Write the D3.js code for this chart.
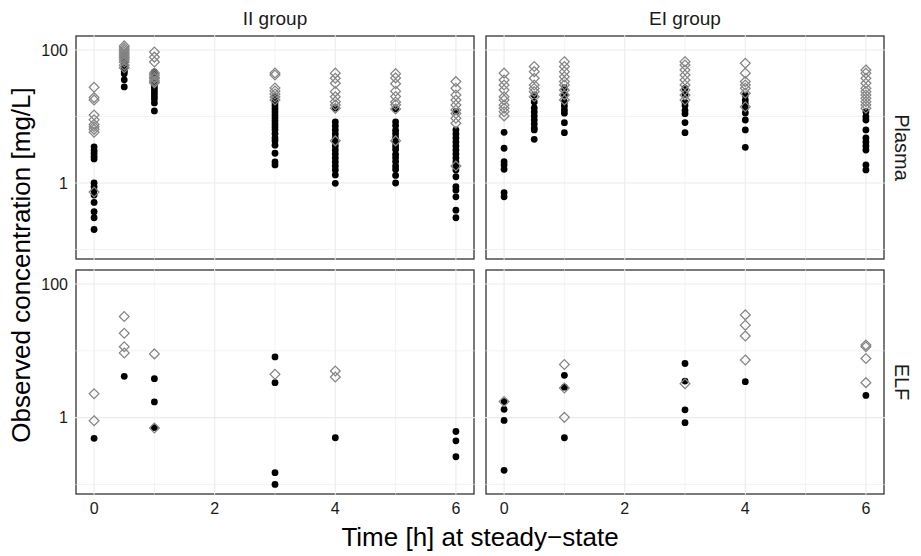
<!DOCTYPE html>
<html><head><meta charset="utf-8">
<script src="https://cdn.jsdelivr.net/npm/d3@7/dist/d3.min.js"></script>
<style>body{margin:0;background:#fff} svg{display:block} text{font-family:"Liberation Sans",Arial,Helvetica,sans-serif}</style>
</head><body><svg id="c" width="921" height="556"></svg>
<script>
// ---------- data ----------
const groups = ["II group", "EI group"];
const matrices = ["Plasma", "ELF"];
const xTicks = [0, 2, 4, 6];
const xMinor = [1, 3, 5];
const yTicks = [1, 100];
const yMinor = [0.1, 10];
const xTitle = "Time [h] at steady\u2212state";
const yTitle = "Observed concentration [mg/L]";

// [time, [concentrations]]  — filled black circles
const iiPlasmaObs = [
  [0,   [3.5, 3.1, 2.8, 2.5, 2.3, 1.0, 0.88, 0.77, 0.66, 0.51, 0.37, 0.30, 0.20]],
  [0.5, [84, 76, 71, 66, 62, 57, 54, 50, 47, 44, 35.5, 27.8]],
  [1,   [46.7, 42, 37.9, 34.2, 30.8, 27.8, 25, 22.6, 20.3, 18.3, 16, 12.1]],
  [3,   [19.7, 17.7, 16, 14.4, 13, 11.7, 10.5, 9.5, 8.6, 7.7, 6.95, 6.3, 5.5, 4.75, 4.3, 3.7, 2.8, 2.07, 1.87]],
  [4,   [13.4, 8.27, 7.2, 6.27, 5.46, 4.75, 4.14, 3.6, 3.13, 2.73, 2.38, 2.07, 1.8, 1.57, 1.32, 0.99]],
  [5,   [13, 8.3, 7.3, 6.2, 5.5, 4.8, 4.1, 3.6, 3.2, 2.7, 2.4, 2.1, 1.8, 1.6, 1.3, 1.0]],
  [6,   [11.8, 6.27, 5.46, 4.75, 4.14, 3.6, 3.13, 2.73, 2.38, 2.07, 1.8, 1.57, 1.24, 0.88, 0.78, 0.62, 0.39, 0.30]]
];
// open grey diamonds
const iiPlasmaPred = [
  [0,   [27.5, 19.2, 17.7, 10.5, 8.9, 7.6, 7.0, 6.4, 5.8, 0.73]],
  [0.5, [115, 107, 100, 93, 87, 81, 76, 71, 66, 59, 54]],
  [1,   [93, 78, 66, 45, 42, 39, 37, 34, 32]],
  [3,   [45, 42, 26.8, 24.2, 21.8, 19.6, 17.7]],
  [4,   [44.8, 37.5, 31.6, 23.6, 19.8, 16.7, 14.9, 13.3, 4.3]],
  [5,   [44, 38, 31, 24, 20, 16.5, 15, 13, 4.3]],
  [6,   [33.4, 26.5, 21, 17.7, 14.9, 12.5, 11.1, 9.4, 7.9, 1.8]]
];
const eiPlasmaObs = [
  [0,   [5.78, 3.33, 2.09, 1.87, 1.61, 0.715, 0.62]],
  [0.5, [21, 16.5, 13.4, 11.7, 10.2, 8.85, 7.7, 6.7, 6.27, 4.54]],
  [1,   [26.8, 21, 16.5, 14.4, 12.5, 11.2, 8.07, 5.7]],
  [3,   [26.5, 21.5, 16.3, 14.6, 12.3, 11, 8.1, 5.7]],
  [4,   [21, 17.7, 15.5, 13.4, 11.3, 8.85, 6.27, 3.44]],
  [6,   [11.8, 9.9, 8.85, 6.27, 4.75, 4.14, 3.6, 3.13, 1.87, 1.57]]
];
const eiPlasmaPred = [
  [0,   [44.8, 35.3, 29.7, 25, 19.8, 17.7, 14.9, 13.3, 11.8, 10.2]],
  [0.5, [56.3, 47.2, 37.5, 29.7, 26.4, 23.6, 19.8]],
  [1,   [66.6, 56.3, 47.2, 39.5, 33.4, 29.7, 25, 21, 17.7]],
  [3,   [66.6, 59.3, 49.9, 42, 35.3, 29.7, 25, 21, 17.7]],
  [4,   [63, 44.8, 33.4, 29.7, 26.5, 22.3, 14.0]],
  [6,   [50, 44.8, 37.5, 31.6, 26.5, 23.6, 21, 18.8, 16.7, 14.9, 13.3]]
];
const iiElfObs = [
  [0, [0.49]], [0.5, [4.15]], [1, [3.83, 1.72, 0.71]],
  [3, [8.1, 3.34, 0.15, 0.1]], [4, [0.5]], [6, [0.62, 0.45, 0.26]]
];
const iiElfPred = [
  [0, [2.28, 0.9]], [0.5, [32.6, 18.3, 11.5, 9.3]], [1, [9.0, 0.7]],
  [3, [4.45]], [4, [4.99, 4.05]]
];
const eiElfObs = [
  [0, [1.74, 1.33, 0.91, 0.163]], [1, [4.3, 2.86, 0.5]],
  [3, [6.46, 3.53, 1.31, 0.84]], [4, [3.45]], [6, [2.15]]
];
const eiElfPred = [
  [0, [1.74]], [1, [6.24, 2.77, 1.01]], [3, [3.22]],
  [4, [34.5, 24.2, 16.7, 7.3]], [6, [12.2, 11.5, 7.68, 3.34]]
];

// ---------- layout ----------
const svg = d3.select("#c");
const colX = [[76, 474], [486, 884]];
const rowY = [[36, 259], [270, 494]];
const xDomain = [-0.3, 6.3];
const yDomain = [0.072, 162];

const panels = [
  {g: 0, m: 0, obs: iiPlasmaObs, pred: iiPlasmaPred},
  {g: 1, m: 0, obs: eiPlasmaObs, pred: eiPlasmaPred},
  {g: 0, m: 1, obs: iiElfObs, pred: iiElfPred},
  {g: 1, m: 1, obs: eiElfObs, pred: eiElfPred}
];
const flat = arr => arr.flatMap(([t, vs]) => vs.map(v => ({t, v})));

const gridCol = "#ebebeb";
const borderCol = "#333333";

panels.forEach(p => {
  const [x0, x1] = colX[p.g];
  const [y0, y1] = rowY[p.m];
  const x = d3.scaleLinear().domain(xDomain).range([x0, x1]);
  const y = d3.scaleLog().domain(yDomain).range([y1, y0]);
  const g = svg.append("g");

  // border
  g.append("rect").attr("x", x0).attr("y", y0).attr("width", x1 - x0).attr("height", y1 - y0)
    .attr("fill", "#fff").attr("stroke", borderCol).attr("stroke-width", 1.3);

  // grid (minor then major)
  g.selectAll(".gxm").data(xMinor).enter().append("line")
    .attr("x1", d => x(d)).attr("x2", d => x(d)).attr("y1", y0 - 0.7).attr("y2", y1 + 0.7)
    .attr("stroke", gridCol).attr("stroke-width", 0.6);
  g.selectAll(".gym").data(yMinor).enter().append("line")
    .attr("y1", d => y(d)).attr("y2", d => y(d)).attr("x1", x0 - 0.7).attr("x2", x1 + 0.7)
    .attr("stroke", gridCol).attr("stroke-width", 0.6);
  g.selectAll(".gx").data(xTicks).enter().append("line")
    .attr("x1", d => x(d)).attr("x2", d => x(d)).attr("y1", y0 - 0.7).attr("y2", y1 + 0.7)
    .attr("stroke", gridCol).attr("stroke-width", 1.1);
  g.selectAll(".gy").data(yTicks).enter().append("line")
    .attr("y1", d => y(d)).attr("y2", d => y(d)).attr("x1", x0 - 0.7).attr("x2", x1 + 0.7)
    .attr("stroke", gridCol).attr("stroke-width", 1.1);

  // observed: black circles
  g.selectAll(".obs").data(flat(p.obs)).enter().append("circle")
    .attr("cx", d => x(d.t)).attr("cy", d => y(d.v)).attr("r", 3.4).attr("fill", "#000");

  // predicted: grey open diamonds
  const r = 4.9;
  const diamond = `M0,${-r}L${r},0L0,${r}L${-r},0Z`;
  g.selectAll(".pred").data(flat(p.pred)).enter().append("path")
    .attr("d", diamond)
    .attr("transform", d => `translate(${x(d.t)},${y(d.v)})`)
    .attr("fill", "none").attr("stroke", "#858585").attr("stroke-width", 1.25);

  // y axis labels on left column
  if (p.g === 0) {
    g.selectAll(".yl").data(yTicks).enter().append("text")
      .attr("x", x0 - 8).attr("y", d => y(d)).attr("dy", "0.36em")
      .attr("text-anchor", "end").attr("font-size", 16).attr("fill", "#1a1a1a")
      .text(d => d3.format("~g")(d));
  }
  // x axis labels on bottom row
  if (p.m === 1) {
    g.selectAll(".xl").data(xTicks).enter().append("text")
      .attr("x", d => x(d)).attr("y", y1 + 20)
      .attr("text-anchor", "middle").attr("font-size", 16).attr("fill", "#1a1a1a")
      .text(d => d);
  }
});

// strip labels
groups.forEach((s, i) => {
  svg.append("text").attr("x", (colX[i][0] + colX[i][1]) / 2).attr("y", 25)
    .attr("text-anchor", "middle").attr("font-size", 19).attr("fill", "#1a1a1a").text(s);
});
matrices.forEach((s, i) => {
  const cy = (rowY[i][0] + rowY[i][1]) / 2;
  svg.append("text").attr("transform", `translate(895,${cy}) rotate(90)`)
    .attr("text-anchor", "middle").attr("font-size", 20).attr("fill", "#1a1a1a").text(s);
});

// axis titles
svg.append("text").attr("x", (colX[0][0] + colX[1][1]) / 2).attr("y", 546)
  .attr("text-anchor", "middle").attr("font-size", 26).attr("fill", "#000").text(xTitle);
svg.append("text").attr("transform", `translate(30,${(rowY[0][0] + rowY[1][1]) / 2}) rotate(-90)`)
  .attr("text-anchor", "middle").attr("font-size", 26).attr("fill", "#000").text(yTitle);
</script></body></html>
